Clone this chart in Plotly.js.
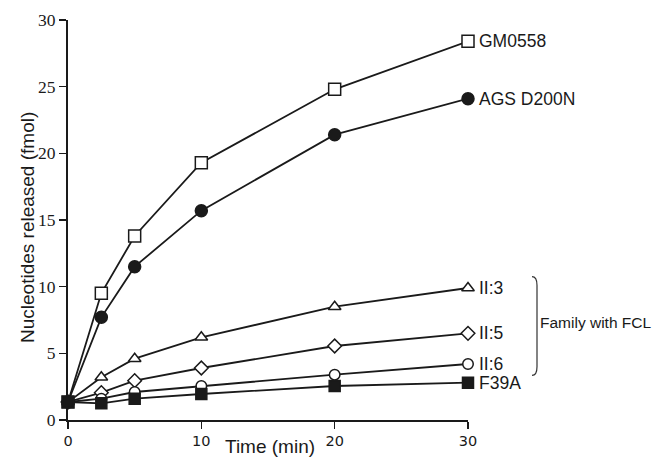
<!DOCTYPE html>
<html>
<head>
<meta charset="utf-8">
<script src="https://cdn.plot.ly/plotly-3.0.1.min.js"></script>
<style>html,body{margin:0;padding:0;background:#fff;}#chart{width:659px;height:459px;}</style>
</head>
<body>
<div id="chart"></div>
<script>
// Data
var timeMin = [0, 2.5, 5, 10, 20, 30];
var gm0558 = [1.35, 9.5, 13.8, 19.3, 24.8, 28.4];
var agsD200N = [1.35, 7.7, 11.5, 15.7, 21.4, 24.1];
var ii3 = [1.35, 3.2, 4.6, 6.2, 8.5, 9.9];
var ii5 = [1.35, 2.05, 2.95, 3.9, 5.55, 6.5];
var ii6 = [1.35, 1.6, 2.1, 2.55, 3.4, 4.2];
var f39a = [1.35, 1.25, 1.6, 1.95, 2.55, 2.8];
var seriesNames = ["GM0558", "AGS D200N", "II:3", "II:5", "II:6", "F39A"];
var xTicks = [0, 10, 20, 30];
var yTicks = [0, 5, 10, 15, 20, 25, 30];

var ink = "#1a1a1a";
var seriesData = [gm0558, agsD200N, ii3, ii5, ii6, f39a];
var symbols = ["square", "circle", "triangle-up", "diamond", "circle", "square"];
var fills = ["#ffffff", ink, "#ffffff", "#ffffff", "#ffffff", ink];
var sizes = [12, 12, 11, 10.5, 10.5, 11];

var traces = seriesData.map(function (vals, i) {
  return {
    x: timeMin, y: vals, name: seriesNames[i],
    type: "scatter", mode: "lines+markers", cliponaxis: false,
    line: {color: ink, width: 1.8},
    marker: {symbol: symbols[i], size: sizes[i], color: fills[i], line: {color: ink, width: 1.5}}
  };
});

var labelFont = {family: "Liberation Sans, Arial, sans-serif", size: 17.5, color: ink};
var annotations = seriesData.map(function (vals, i) {
  return {
    x: timeMin[timeMin.length - 1], y: vals[vals.length - 1], xref: "x", yref: "y",
    text: seriesNames[i], showarrow: false, xanchor: "left", yanchor: "middle",
    xshift: 9, font: labelFont
  };
});
annotations.push({
  x: 1.175, y: 7.28, xref: "paper", yref: "y", text: "Family with FCL",
  showarrow: false, xanchor: "left", yanchor: "middle",
  font: {family: "Liberation Sans, Arial, sans-serif", size: 15.5, color: ink}
});
annotations.push({
  x: -0.1025, y: 0.48, xref: "paper", yref: "paper", text: "Nucleotides released (fmol)",
  textangle: -90, showarrow: false, xanchor: "center", yanchor: "middle",
  font: {family: "Liberation Sans, Arial, sans-serif", size: 19, color: ink}
});
annotations.push({
  x: 0.505, y: -0.066, xref: "paper", yref: "paper", text: "Time (min)",
  showarrow: false, xanchor: "center", yanchor: "middle",
  font: {family: "Liberation Sans, Arial, sans-serif", size: 19, color: ink}
});

var layout = {
  width: 659, height: 459,
  margin: {l: 68, r: 191, t: 20, b: 39},
  paper_bgcolor: "#ffffff", plot_bgcolor: "#ffffff",
  showlegend: false,
  xaxis: {
    range: [0, 30], tickvals: xTicks, ticktext: xTicks.map(String),
    showline: true, linecolor: ink, linewidth: 2, showgrid: false, zeroline: false,
    ticks: "outside", ticklen: 7, tickwidth: 1.5, tickcolor: ink,
    tickfont: {family: "DejaVu Sans, Verdana, sans-serif", size: 14.5, color: ink}
  },
  yaxis: {
    range: [0, 30], tickvals: yTicks, ticktext: yTicks.map(String),
    showline: true, linecolor: ink, linewidth: 2, showgrid: false, zeroline: false,
    ticks: "outside", ticklen: 7, tickwidth: 1.5, tickcolor: ink,
    tickfont: {family: "Liberation Serif, Times New Roman, serif", size: 17.5, color: ink}
  },
  shapes: [{
    type: "path", xref: "paper", yref: "y",
    path: "M 1.16 10.75 Q 1.1725 10.75 1.1725 10.1 L 1.1725 4.0 Q 1.1725 3.35 1.16 3.35",
    line: {color: "#333333", width: 1.2}
  }],
  annotations: annotations
};

Plotly.newPlot("chart", traces, layout, {displayModeBar: false, staticPlot: true});
</script>
</body>
</html>
